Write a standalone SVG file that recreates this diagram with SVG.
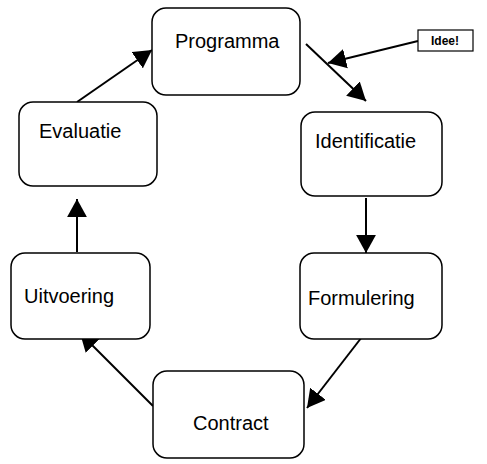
<svg xmlns="http://www.w3.org/2000/svg" width="487" height="464" viewBox="0 0 487 464">
<style>
.box{fill:#fff;stroke:#000;stroke-width:1.5}
.lbl{font-family:"Liberation Sans",Arial,sans-serif;font-size:20px;fill:#000}
.idee{font-family:"Liberation Sans",Arial,sans-serif;font-size:12px;font-weight:bold;fill:#000}
.con{stroke:#000;stroke-width:2;fill:none;marker-end:url(#ah)}
</style>
<defs>
<marker id="ah" viewBox="0 0 10 11" refX="10" refY="5.5" markerWidth="9" markerHeight="10" markerUnits="strokeWidth" orient="auto">
<path d="M0,0 L10,5.5 L0,11 Z" fill="#000"/>
</marker>
</defs>
<g id="connectors">
<line class="con" x1="77" y1="102" x2="152" y2="50"/>
<line class="con" x1="306" y1="44" x2="366" y2="101"/>
<line class="con" x1="418" y1="41" x2="328" y2="63"/>
<line class="con" x1="366" y1="198" x2="366" y2="253"/>
<line class="con" x1="365" y1="333" x2="307" y2="408"/>
<line class="con" x1="153" y1="406" x2="80" y2="333"/>
<line class="con" x1="77" y1="252" x2="77" y2="199"/>
</g>
<g id="programma">
<rect class="box" x="152" y="8" width="148" height="87" rx="14"/>
<text class="lbl" x="175" y="48">Programma</text>
</g>
<g id="idee">
<rect x="418" y="30" width="55" height="21" fill="#fff" stroke="#000" stroke-width="1.2"/>
<text class="idee" x="431" y="45">Idee!</text>
</g>
<g id="identificatie">
<rect class="box" x="301" y="112" width="141" height="84" rx="14"/>
<text class="lbl" x="315" y="148">Identificatie</text>
</g>
<g id="evaluatie">
<rect class="box" x="19" y="102" width="138" height="84" rx="14"/>
<text class="lbl" x="39" y="138">Evaluatie</text>
</g>
<g id="uitvoering">
<rect class="box" x="11" y="253" width="139" height="86" rx="14"/>
<text class="lbl" x="24" y="303">Uitvoering</text>
</g>
<g id="formulering">
<rect class="box" x="300" y="253" width="142" height="86" rx="14"/>
<text class="lbl" x="308" y="305">Formulering</text>
</g>
<g id="contract">
<rect class="box" x="153" y="371" width="151" height="87" rx="14"/>
<text class="lbl" x="193" y="430">Contract</text>
</g>
</svg>
